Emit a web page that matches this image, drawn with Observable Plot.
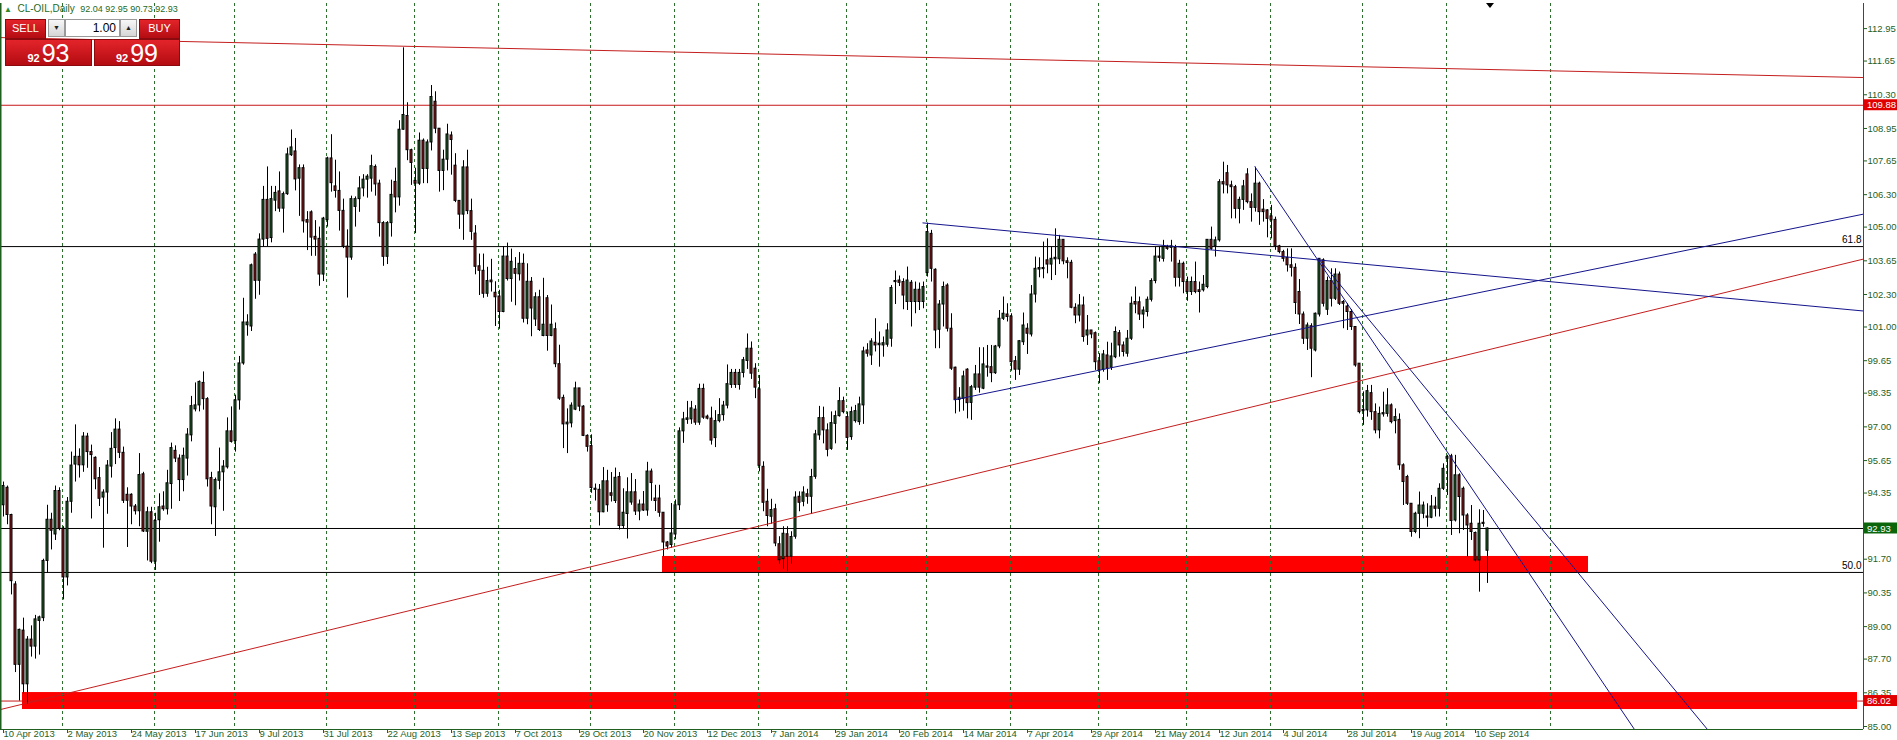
<!DOCTYPE html>
<html><head><meta charset="utf-8">
<script src="https://cdn.jsdelivr.net/npm/d3@7"></script>
<script src="https://cdn.jsdelivr.net/npm/@observablehq/plot@0.6"></script>
<style>
body{margin:0;background:#fff;}
#wrap{position:relative;width:1897px;height:740px;overflow:hidden;font-family:'Liberation Sans',Arial,sans-serif;}
#wrap svg{position:absolute;left:0;top:0;}
.ov{position:absolute;box-sizing:border-box;}
.red{background:linear-gradient(#e3242a,#b30c12);color:#fff;border:1px solid #8c0a0e;}
.lbl{font-size:11px;text-align:center;line-height:17px;}
.btn{background:linear-gradient(#f7f7f7,#d6d6d6);border:1px solid #9a9a9a;font-size:7px;text-align:center;line-height:16px;color:#222;}
.fld{background:#fff;border:1px solid #9a9a9a;font-size:12px;text-align:right;padding-right:3px;line-height:16px;color:#000;}
.price{display:flex;align-items:baseline;justify-content:center;line-height:26px;}
.price .s{font-size:11px;font-weight:bold;margin-right:2px;}
.price .b{font-size:25px;}
</style>
</head><body>
<div id="wrap"></div>
<script>
// ---------- data: daily bars from 10 Apr 2013 (bar 0) to 15 Sep 2014 (bar 371) ----------
const openP = [
93.86,94.56,93.47,90.69,87.47,88.84,86.69,88.48,88.2,89.23,
89.34,91.63,93.28,92.69,94.43,92.92,90.97,94.0,95.49,95.8,
95.46,96.61,95.99,95.76,94.95,94.17,94.37,95.41,96.15,96.89,
95.96,94.28,94.28,93.81,93.62,95.1,92.8,93.58,91.6,93.26,
93.81,93.7,94.71,96.04,95.73,94.87,95.73,96.66,97.7,97.86,
98.76,98.11,94.95,93.78,94.84,95.18,95.38,96.82,96.43,98.06,
99.54,101.07,101.02,103.9,102.85,104.5,106.09,104.56,106.06,106.43,
105.74,106.32,107.88,108.03,106.94,107.36,105.28,105.59,104.61,104.53,
103.1,105.28,107.75,106.63,106.45,105.65,104.22,103.78,105.81,106.12,
106.55,106.9,106.94,107.41,106.74,105.16,103.81,105.16,106.81,106.19,
108.9,109.45,108.08,106.85,106.74,108.46,107.33,108.39,110.02,108.94,
107.25,107.7,108.67,107.46,106.05,105.5,107.39,105.64,104.74,103.43,
103.25,102.33,102.86,102.37,102.22,101.6,103.82,102.92,103.32,103.11,
103.53,101.33,102.81,101.3,102.19,100.64,102.15,100.64,100.91,99.51,
98.16,97.1,97.14,97.69,98.54,97.81,96.64,96.23,94.52,94.48,
93.58,94.82,94.34,94.03,94.99,93.03,93.51,93.97,94.38,93.61,
93.89,93.65,95.21,94.13,94.13,93.56,92.37,92.27,92.69,93.86,
96.82,97.28,97.3,97.69,97.17,98.52,97.41,97.33,96.55,97.23,
97.47,97.85,98.68,99.16,98.68,99.16,99.64,100.13,99.33,98.5,
95.4,94.0,93.4,93.7,92.3,91.7,92.7,91.8,92.6,94.2,
94.0,94.3,94.2,95.0,96.66,97.35,96.86,96.12,97.12,97.43,
98.03,97.39,96.59,97.23,97.19,97.86,100.06,99.86,100.37,100.27,
100.26,100.29,100.53,102.8,102.86,102.8,102.0,102.77,102.0,102.49,
102.0,103.16,104.73,103.29,100.89,101.9,102.66,100.93,99.37,98.08,
98.12,99.29,97.96,98.57,99.1,98.53,99.42,99.39,99.15,100.22,
101.33,101.5,101.42,99.63,99.29,100.39,100.93,100.7,102.3,103.3,
103.32,103.67,103.5,103.71,103.71,104.49,103.63,103.57,101.77,101.46,
101.86,100.66,100.86,100.75,99.63,99.29,99.86,99.37,99.79,100.75,
100.26,99.93,100.53,102.0,101.99,101.5,101.6,102.09,102.84,103.82,
103.73,104.2,104.17,104.17,102.97,103.53,102.8,102.4,102.8,102.47,
102.47,102.6,104.49,104.23,104.47,106.8,107.16,106.67,106.6,105.73,
106.09,107.11,106.0,105.77,106.74,105.7,105.67,105.43,105.29,104.23,
104.0,103.77,103.47,103.37,102.4,101.5,100.53,101.03,100.06,101.5,
103.67,101.69,102.84,102.13,103.1,102.0,101.82,101.6,101.0,99.53,
97.68,97.66,98.35,97.59,96.86,97.5,97.52,97.86,97.23,97.28,
95.46,94.99,93.92,92.79,93.52,93.52,93.41,93.36,93.81,93.72,
94.52,95.72,95.82,93.25,95.06,94.52,93.45,93.12,92.75,91.65,
93.15,92.04];
const highP = [
94.79,94.63,93.5,90.8,88.9,89.34,88.6,89.03,89.45,89.42,
91.7,93.86,93.54,94.63,94.56,93.0,94.17,95.99,97.08,96.12,
96.77,96.74,96.27,95.8,95.37,94.48,95.65,96.77,97.32,97.21,
96.19,94.56,94.32,93.89,95.93,95.18,93.78,93.78,93.54,94.32,
94.4,95.26,96.35,96.24,95.88,96.15,96.93,98.22,98.76,98.84,
99.2,98.17,95.18,94.95,96.15,95.65,97.36,97.8,98.27,99.82,
102.15,101.49,103.52,103.98,104.73,106.63,107.41,106.63,106.63,107.21,
106.4,108.16,108.89,108.55,107.49,107.49,105.62,105.65,105.26,105.0,
105.39,107.8,108.7,107.68,107.21,106.12,104.89,106.24,106.21,107.02,
107.1,107.1,107.88,107.49,106.88,105.22,105.22,106.88,107.36,109.26,
112.18,109.98,108.12,107.36,108.77,108.53,108.49,110.67,110.42,108.94,
108.08,109.12,108.81,107.94,106.05,107.66,108.08,106.12,105.06,103.92,
103.92,103.39,103.71,102.81,102.47,104.22,104.36,104.12,103.78,103.98,
103.92,103.53,102.98,102.37,102.47,102.95,102.26,101.88,101.16,100.27,
98.27,97.72,97.96,98.79,98.54,97.85,96.68,96.68,94.71,94.69,
95.37,95.26,95.17,95.35,95.17,94.52,94.96,95.13,94.89,94.07,
94.41,95.58,95.31,94.66,94.66,93.56,92.41,93.93,94.07,96.96,
97.58,98.02,98.02,97.85,98.71,98.71,97.47,97.79,97.65,98.13,
98.02,99.48,99.3,99.3,99.3,99.78,100.72,100.4,99.53,99.06,
95.6,94.5,94.1,93.9,92.6,93.0,93.0,92.8,94.4,94.4,
94.6,94.5,95.3,96.86,97.82,97.79,97.12,97.6,97.63,98.57,
98.19,97.59,97.79,97.86,98.19,100.19,100.33,100.53,101.33,100.8,
100.6,101.13,102.66,103.24,103.04,102.93,103.4,102.86,102.8,102.76,
102.8,105.16,104.87,103.33,102.06,102.8,102.73,101.53,99.39,98.57,
99.23,99.33,98.66,99.46,100.17,100.17,100.26,100.26,100.26,101.66,
102.2,101.93,101.53,99.82,100.46,101.56,101.13,102.66,103.8,103.77,
104.4,104.53,104.2,104.93,104.67,104.49,103.77,103.67,101.93,102.3,
102.2,101.46,100.86,100.8,99.93,100.06,100.39,100.35,101.0,100.86,
100.4,100.86,102.2,102.6,102.2,101.8,102.2,102.93,104.2,104.2,
104.47,104.27,104.47,104.27,103.67,103.6,103.0,103.0,103.6,102.8,
103.06,104.49,105.0,104.6,106.9,107.6,107.47,106.84,106.67,106.2,
106.87,107.34,106.33,107.4,106.8,106.1,105.7,105.87,105.4,104.27,
104.07,104.13,104.13,103.53,102.9,101.6,101.16,101.13,101.56,103.73,
103.73,103.0,103.33,103.33,103.2,102.06,101.93,101.7,101.0,99.53,
98.4,98.66,98.66,97.92,97.79,98.39,98.53,97.92,97.72,97.52,
95.52,95.06,93.92,93.58,94.39,93.99,93.92,94.25,94.18,94.72,
95.52,95.86,95.9,95.86,95.12,94.59,93.52,93.85,92.79,93.68,
93.65,92.95];
const lowP = [
93.39,93.08,90.27,87.16,86.02,86.3,85.9,87.78,87.7,87.86,
89.2,91.13,92.07,92.45,92.84,90.07,90.63,93.54,94.79,94.95,
95.18,95.34,93.31,94.48,93.81,92.14,93.5,94.95,95.49,95.73,
93.93,92.17,93.08,93.47,93.0,92.77,91.63,91.52,91.25,92.38,
93.62,93.47,93.7,95.57,94.01,94.4,95.03,96.4,97.6,97.6,
97.67,94.59,93.08,92.61,94.48,93.62,95.31,96.35,95.99,97.67,
99.47,100.63,100.82,102.11,102.27,104.19,104.22,104.37,105.62,105.59,
104.76,106.27,107.83,106.45,105.43,104.76,104.06,103.83,103.83,102.63,
102.82,105.0,106.4,106.16,104.84,104.14,102.16,103.67,105.0,105.59,
106.21,106.16,106.4,106.24,104.6,103.43,103.5,104.6,105.57,105.84,
108.88,107.66,106.67,104.74,106.67,106.74,106.74,108.05,108.74,106.4,
106.46,107.25,107.08,105.98,104.91,104.47,105.5,104.47,103.09,102.26,
102.15,102.19,102.4,101.02,100.91,101.57,102.84,101.99,101.85,102.84,
101.16,101.09,100.61,101.02,100.82,100.61,100.03,100.61,99.37,98.06,
96.13,95.93,96.96,97.65,97.61,96.61,95.99,94.34,94.03,93.03,
93.56,93.58,93.99,93.93,92.87,92.92,92.51,93.86,93.45,93.24,
93.61,93.42,94.02,93.61,93.38,91.79,92.07,92.14,92.48,93.65,
96.34,97.1,97.1,97.06,97.06,97.3,97.28,96.27,96.17,97.16,
97.23,97.72,98.54,98.54,98.47,98.96,99.3,98.9,98.13,95.2,
93.6,93.0,93.1,92.2,91.5,91.3,91.2,91.5,92.5,93.6,
93.8,93.9,93.5,94.9,96.46,96.32,95.8,96.06,96.32,97.39,
97.52,96.06,96.46,97.15,97.06,97.1,99.79,99.46,100.0,99.39,
99.79,100.19,100.19,101.9,102.62,101.69,101.66,101.0,101.53,101.66,
101.73,103.0,102.8,100.13,100.13,101.0,100.8,99.26,97.52,97.59,
97.63,97.32,97.26,98.46,98.35,98.49,98.99,98.77,99.1,100.13,
101.26,101.2,99.23,98.86,99.06,100.26,99.9,100.6,101.96,102.97,
102.93,103.13,102.86,103.06,103.5,103.49,102.93,101.73,101.13,101.2,
100.39,100.26,100.53,99.26,98.73,99.19,98.86,99.26,99.73,99.79,
99.8,99.79,100.46,101.53,101.26,100.93,101.4,102.0,102.73,103.6,
103.6,104.07,103.6,102.6,102.6,102.33,102.03,102.26,102.33,101.56,
102.4,102.53,104.07,103.8,104.4,106.33,106.33,105.33,105.33,105.13,
105.67,105.93,105.2,105.6,105.07,105.2,104.57,104.53,104.07,103.93,
103.6,103.2,103.0,101.5,101.1,100.3,100.06,98.97,100.0,101.4,
101.8,101.46,101.8,102.06,101.86,100.93,100.86,100.86,99.39,97.52,
97.06,97.39,97.26,96.72,96.52,97.39,97.39,97.12,96.72,95.26,
93.85,93.85,92.58,92.72,92.52,93.32,92.98,93.32,93.39,93.39,
94.45,94.25,92.65,93.19,92.72,92.85,91.78,92.45,91.58,90.38,
92.98,90.73];
const closeP = [
94.63,93.47,90.82,87.47,88.87,86.69,88.48,88.2,89.29,89.37,
91.63,93.28,92.84,94.43,92.92,90.97,94.0,95.45,95.8,95.46,
96.61,95.99,95.87,94.9,94.12,94.37,95.45,96.12,96.89,95.96,
94.04,94.04,93.81,93.62,95.07,92.81,93.58,91.6,93.23,93.78,
93.7,94.74,96.15,95.73,94.87,95.84,96.69,97.83,97.86,98.8,
98.11,94.9,93.81,94.87,95.18,95.41,96.82,96.4,98.06,99.54,
101.18,101.18,103.47,102.85,104.5,106.09,104.53,106.12,106.37,105.74,
106.32,107.91,108.19,106.91,107.36,105.23,105.18,104.58,104.5,103.1,
105.34,107.75,106.76,106.45,105.65,104.22,103.78,106.12,106.12,106.55,
106.9,107.02,107.44,106.71,105.16,103.81,105.16,106.29,106.19,108.9,
109.49,108.08,107.57,106.74,108.46,107.33,108.39,110.21,108.94,107.25,
107.7,108.71,108.49,106.05,105.5,107.39,105.64,104.81,103.41,103.25,
102.33,102.84,102.79,102.19,101.6,103.82,102.92,103.61,103.13,103.53,
101.33,102.81,101.74,102.19,100.88,101.09,100.64,101.09,99.51,98.13,
97.1,97.17,97.85,98.54,97.81,96.64,96.2,94.55,94.48,93.58,
94.82,93.86,94.24,94.96,93.03,93.56,94.38,94.38,93.61,93.89,
93.65,95.21,94.75,94.03,93.56,92.37,92.21,92.73,93.86,96.82,
97.3,97.34,97.74,97.17,98.52,97.37,97.33,96.45,97.23,97.47,
97.85,98.71,99.16,98.68,99.16,99.67,100.13,99.13,98.57,95.44,
93.96,93.43,93.67,92.33,91.66,92.72,91.8,92.59,94.17,93.96,
94.37,94.2,94.99,96.7,97.35,96.86,96.08,97.15,97.43,98.03,
97.59,96.56,97.59,97.63,97.9,100.02,99.93,100.42,100.26,100.33,
100.35,100.86,102.56,102.84,102.77,102.26,102.86,102.0,102.49,102.0,
102.6,104.8,103.33,100.86,101.9,102.6,100.93,99.33,98.08,98.17,
99.02,97.95,98.59,99.1,98.57,99.5,99.37,99.15,100.22,101.33,
101.53,101.4,99.59,99.29,100.43,101.06,100.73,102.3,103.33,103.36,
103.36,103.5,103.73,103.77,104.49,103.63,103.56,101.77,101.46,101.86,
100.6,100.86,100.7,99.59,99.26,99.9,99.33,99.82,100.8,100.26,
100.0,100.53,101.93,101.9,101.5,101.66,102.09,102.84,103.82,103.77,
104.2,104.13,104.23,102.97,103.53,102.8,102.4,102.8,102.4,102.4,
102.69,104.49,104.13,104.47,106.8,106.71,106.67,106.6,105.73,106.09,
106.63,106.0,105.77,106.74,105.6,105.6,105.33,105.27,104.23,104.0,
103.73,103.47,103.37,101.96,101.5,100.53,101.06,100.13,101.53,103.73,
101.93,102.84,102.13,103.1,101.93,101.93,101.6,101.0,99.46,97.59,
97.63,98.43,97.59,96.86,97.52,97.55,97.86,97.19,97.39,95.46,
94.79,93.92,92.79,93.52,93.85,93.85,93.36,93.81,93.72,94.52,
95.32,95.79,93.23,95.06,94.19,93.45,93.05,92.79,91.65,93.12,
93.12,92.93];

// time axis labels (every 16 bars) and month-start bars for the grid
const timeLabels = ["10 Apr 2013","2 May 2013","24 May 2013","17 Jun 2013","9 Jul 2013","31 Jul 2013","22 Aug 2013","13 Sep 2013","7 Oct 2013","29 Oct 2013","20 Nov 2013","12 Dec 2013","7 Jan 2014","29 Jan 2014","20 Feb 2014","14 Mar 2014","7 Apr 2014","29 Apr 2014","21 May 2014","12 Jun 2014","4 Jul 2014","28 Jul 2014","19 Aug 2014","10 Sep 2014"];
const timeLabelBars = [0,16,32,48,64,80,96,112,128,144,160,176,192,208,224,240,256,272,288,304,320,336,352,368];
const monthStartBars = [15,38,58,81,103,124,147,168,189,211,231,252,274,296,317,340,361,387];
const priceTicks = [85.00,86.35,87.70,89.00,90.35,91.70,94.35,95.65,97.00,98.35,99.65,101.00,102.30,103.65,105.00,106.30,107.65,108.95,110.30,111.65,112.95];

// drawn objects
const fibLevels = [{name:"61.8", price:104.22},{name:"50.0", price:91.17}];
const bidPrice = 92.93;
const redLevels = [109.88, 86.02];
const zones = [{b1:4.75, b2:463.5, lo:85.68, hi:86.36},{b1:164.75, b2:396.25, lo:91.15, hi:91.81}];
const redTrends = [{b1:-0.75,p1:112.59,b2:465,p2:110.99},{b1:-0.75,p1:85.68,b2:465,p2:103.72}];
const blueTrends = [{b1:229.75,p1:105.17,b2:465,p2:101.64},{b1:237.6,p1:98.08,b2:465,p2:105.52},{b1:312.8,p1:107.43,b2:407.75,p2:84.88},{b1:328.75,p1:103.74,b2:426,p2:84.88}];
const axisBoxes = [{price:109.88, label:"109.88", color:"#e00000"},{price:92.93, label:"92.93", color:"#0b650b"},{price:86.02, label:"86.02", color:"#e00000"}];

// ---------- build ----------
const n = Math.min(openP.length, highP.length, lowP.length, closeP.length);
const bars = d3.range(n).map(i => ({i, o:openP[i], h:highP[i], l:lowP[i], c:closeP[i]}));
const minBody = 0.045;
const body = d => {
  let a = Math.min(d.o,d.c), b = Math.max(d.o,d.c);
  if (b - a < minBody) { const m = (a+b)/2; a = m - minBody/2; b = m + minBody/2; }
  return [a,b];
};
const bull = bars.filter(d => d.c >= d.o), bear = bars.filter(d => d.c < d.o);
const lblMap = new Map(timeLabelBars.map((b,k) => [b - 0.5, timeLabels[k]]));
const axisGreen = "#1f5f1f";

const chart = Plot.plot({
  width: 1897, height: 740,
  marginLeft: 0, marginRight: 34, marginTop: 3, marginBottom: 11,
  x: {type: "linear", domain: [-0.75, 465]},
  y: {type: "linear", domain: [84.88, 113.955]},
  style: {background: "#fff", color: axisGreen, fontFamily: "'Liberation Sans', Arial, sans-serif", fontSize: "10px", overflow: "visible"},
  marks: [
    Plot.rect(zones, {x1: "b1", x2: "b2", y1: "lo", y2: "hi", fill: "#ff0000", clip: true}),
    Plot.ruleX(monthStartBars, {x: d => d - 0.25, stroke: "#2e6e2e", strokeDasharray: "3,3", strokeWidth: 1}),
    Plot.ruleY(fibLevels, {y: "price", stroke: "#000", strokeWidth: 1}),
    Plot.ruleY([bidPrice], {stroke: "#000", strokeWidth: 1}),
    Plot.ruleY(redLevels, {stroke: "#c81818", strokeWidth: 1}),
    Plot.ruleX(bars, {x: "i", y1: "l", y2: "h", stroke: "#000", strokeWidth: 1}),
    Plot.rect(bull, {x1: d => d.i - 0.25, x2: d => d.i + 0.25, y1: d => body(d)[0], y2: d => body(d)[1], fill: "#23692a", stroke: "#000", strokeWidth: 1}),
    Plot.rect(bear, {x1: d => d.i - 0.25, x2: d => d.i + 0.25, y1: d => body(d)[0], y2: d => body(d)[1], fill: "#9e1b1b", stroke: "#000", strokeWidth: 1}),
    Plot.link(redTrends, {x1: "b1", y1: "p1", x2: "b2", y2: "p2", stroke: "#c41e1e", strokeWidth: 1, clip: true}),
    Plot.link(blueTrends, {x1: "b1", y1: "p1", x2: "b2", y2: "p2", stroke: "#14148c", strokeWidth: 1, clip: true}),
    Plot.text(fibLevels, {x: () => 465, y: "price", text: "name", textAnchor: "end", dx: -2, dy: -7, fill: "#000", fontSize: 10}),
    // frame
    Plot.ruleX([465], {stroke: axisGreen, strokeWidth: 1}),
    Plot.ruleX([-0.75], {stroke: axisGreen, strokeWidth: 2}),
    Plot.ruleY([84.88], {stroke: axisGreen, strokeWidth: 1}),
    Plot.axisY({anchor: "right", ticks: priceTicks, tickFormat: d => d.toFixed(2), tickSize: 3, tickPadding: 1, fontSize: 9.5}),
    Plot.axisX({anchor: "bottom", ticks: timeLabelBars.map(b => b - 0.5), tickFormat: d => lblMap.get(d), textAnchor: "start", tickSize: 4, tickPadding: -3, dx: 2, fontSize: 9.5}),
    Plot.rect(axisBoxes, {x1: () => 465.25, x2: () => 473.5, y1: d => d.price - 0.22, y2: d => d.price + 0.22, fill: "color"}),
    Plot.text(axisBoxes, {x: () => 465, y: "price", text: "label", textAnchor: "start", dx: 3.5, fill: "#fff", fontSize: 9.5})
  ]
});
document.getElementById("wrap").appendChild(chart);

// ---------- overlays: symbol info and one-click trading panel ----------
const wrap = document.getElementById("wrap");
wrap.insertAdjacentHTML("beforeend", `
<div class="ov" style="left:4px;top:3px;font-size:10px;color:#1d6a1d;white-space:nowrap;line-height:12px;"><span style="font-size:8px;color:#2b8a2b">▲</span>&nbsp; CL-OIL,Daily&nbsp; <span style="font-size:9px">92.04 92.95 90.73 92.93</span></div>
<div class="ov red lbl" style="left:5px;top:19px;width:41px;height:20px;">SELL</div>
<div class="ov btn" style="left:48px;top:19px;width:17px;height:18px;">▼</div>
<div class="ov fld" style="left:65px;top:19px;width:55px;height:18px;">1.00</div>
<div class="ov btn" style="left:120px;top:19px;width:17px;height:18px;">▲</div>
<div class="ov red lbl" style="left:139px;top:19px;width:41px;height:20px;">BUY</div>
<div class="ov red price" style="left:5px;top:39px;width:87px;height:27px;"><span class="s">92</span><span class="b">93</span></div>
<div class="ov red price" style="left:94px;top:39px;width:86px;height:27px;"><span class="s">92</span><span class="b">99</span></div>
<div class="ov" style="left:1486px;top:3px;width:0;height:0;border-left:4px solid transparent;border-right:4px solid transparent;border-top:5px solid #000;"></div>
`);
</script>
</body></html>
